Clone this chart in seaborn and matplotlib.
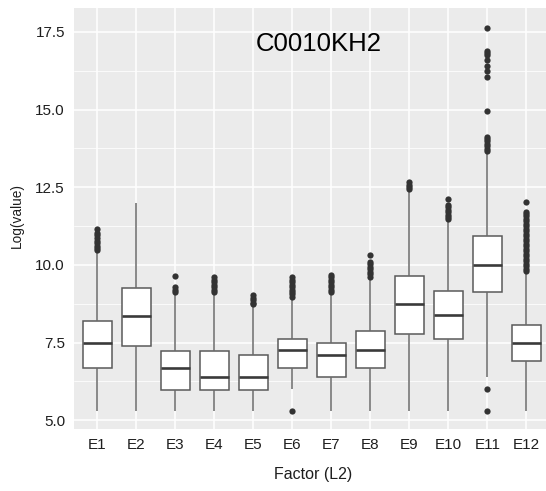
import matplotlib
matplotlib.use("Agg")
import matplotlib.pyplot as plt
import numpy as np
import pandas as pd
import seaborn as sns

# Box summaries per factor level (whisker ends, quartiles, median)
categories = ["E1", "E2", "E3", "E4", "E5", "E6", "E7", "E8", "E9", "E10", "E11", "E12"]
whisker_lo = [5.31, 5.31, 5.31, 5.31, 5.31, 6.01, 5.31, 5.31, 5.31, 5.31, 6.40, 5.31]
q1 = [6.69, 7.39, 5.98, 5.98, 5.98, 6.69, 6.40, 6.69, 7.79, 7.61, 9.12, 6.91]
median = [7.50, 8.35, 6.69, 6.40, 6.40, 7.25, 7.10, 7.25, 8.73, 8.39, 10.00, 7.50]
q3 = [8.19, 9.25, 7.24, 7.24, 7.09, 7.61, 7.50, 7.87, 9.63, 9.16, 10.94, 8.07]
whisker_hi = [10.42, 11.98, 9.10, 9.10, 8.70, 8.94, 9.10, 9.58, 12.40, 11.43, 13.62, 9.75]

# Points beyond the whiskers
outliers_e1 = [10.48, 10.55, 10.62, 10.70, 10.78, 10.86, 10.95, 11.02, 11.15]
outliers_e2 = []
outliers_e3 = [9.14, 9.20, 9.28, 9.65]
outliers_e4 = [9.14, 9.20, 9.28, 9.36, 9.44, 9.52, 9.60]
outliers_e5 = [8.73, 8.79, 8.86, 8.94, 9.02]
outliers_e6 = [5.31, 8.98, 9.05, 9.12, 9.20, 9.28, 9.36, 9.44, 9.52, 9.60]
outliers_e7 = [9.14, 9.20, 9.28, 9.36, 9.44, 9.52, 9.60, 9.68]
outliers_e8 = [9.62, 9.70, 9.78, 9.86, 9.94, 10.02, 10.10, 10.32]
outliers_e9 = [12.43, 12.50, 12.58, 12.66]
outliers_e10 = [11.47, 11.55, 11.62, 11.70, 11.78, 11.86, 11.93, 12.12]
outliers_e11 = [5.31, 6.00, 13.66, 13.74, 13.82, 13.90, 13.98, 14.06, 14.13,
                14.96, 16.06, 16.24, 16.40, 16.60, 16.76, 16.81, 16.87, 17.64]
outliers_e12 = [9.80, 9.88, 9.96, 10.04, 10.12, 10.20, 10.28, 10.36, 10.44,
                10.52, 10.60, 10.68, 10.76, 10.84, 10.92, 11.00, 11.08, 11.16,
                11.24, 11.32, 11.40, 11.48, 11.56, 11.64, 11.71, 12.02]
outlier_lists = [outliers_e1, outliers_e2, outliers_e3, outliers_e4, outliers_e5,
                 outliers_e6, outliers_e7, outliers_e8, outliers_e9, outliers_e10,
                 outliers_e11, outliers_e12]

y_ticks = [5.0, 7.5, 10.0, 12.5, 15.0, 17.5]
y_minor = [6.25, 8.75, 11.25, 13.75, 16.25]

box_rows = []
for i, cat in enumerate(categories):
    for v in (whisker_lo[i], q1[i], median[i], q3[i], whisker_hi[i]):
        box_rows.append({"factor": cat, "value": v})
box_df = pd.DataFrame(box_rows)

out_rows = [{"factor": cat, "value": v}
            for cat, vals in zip(categories, outlier_lists) for v in vals]
out_df = pd.DataFrame(out_rows)

sns.set_theme(style="darkgrid")
plt.rcParams["font.family"] = ["Liberation Sans", "DejaVu Sans"]

W, H = 546, 491
fig = plt.figure(figsize=(W / 100, H / 100), dpi=100)
fig.patch.set_facecolor("white")
left, top, bottom = 74, 8.3, 429.3
ax = fig.add_axes([left / W, 1 - bottom / H, 1 - left / W, (bottom - top) / H])
ax.set_facecolor("#EBEBEB")

sns.boxplot(
    data=box_df, x="factor", y="value", order=categories,
    whis=(0, 100), showfliers=False, showcaps=False, width=0.75,
    color="white", linecolor="#5a5a5a", linewidth=1.1, saturation=1,
    medianprops=dict(color="#3a3a3a", linewidth=1.9),
    whiskerprops=dict(color="#6a6a6a", linewidth=1.1),
    ax=ax,
)
sns.stripplot(
    data=out_df, x="factor", y="value", order=categories,
    jitter=False, color="#333333", size=4.5, linewidth=0, ax=ax, zorder=3,
)

ax.set_xlim(-0.6, 11.505)
ax.set_ylim(4.71, 18.26)
ax.set_yticks(y_ticks)
ax.set_yticklabels([f"{t:.1f}" for t in y_ticks])
ax.set_yticks(y_minor, minor=True)

ax.set_axisbelow(True)
ax.grid(which="major", color="white", linewidth=1.1)
ax.grid(which="minor", axis="y", color="white", linewidth=0.55)
ax.grid(which="minor", axis="x", visible=False)
for s in ax.spines.values():
    s.set_visible(False)

ax.tick_params(which="major", length=2.2, width=0.8, color="#555555",
               labelsize=11, labelcolor="#1e1e1e")
ax.tick_params(axis="y", pad=4.3)
ax.tick_params(axis="x", pad=3.8)
ax.tick_params(which="minor", length=0)

ax.set_xlabel("Factor (L2)", fontsize=11.5, color="#1e1e1e")
ax.xaxis.set_label_coords((313 - left) / (W - left), -(475 - bottom) / (bottom - top))
ax.xaxis.label.set_va("center")
ax.set_ylabel("Log(value)", fontsize=9.8, color="#1e1e1e")
ax.yaxis.set_label_coords((16.7 - left) / (W - left), (bottom - 216) / (bottom - top))
ax.yaxis.label.set_va("center")

fig.text(319 / W, 1 - 44 / H, "C0010KH2", fontsize=18.5, color="black",
         ha="center", va="center")

fig.savefig("out.png", dpi=100)
